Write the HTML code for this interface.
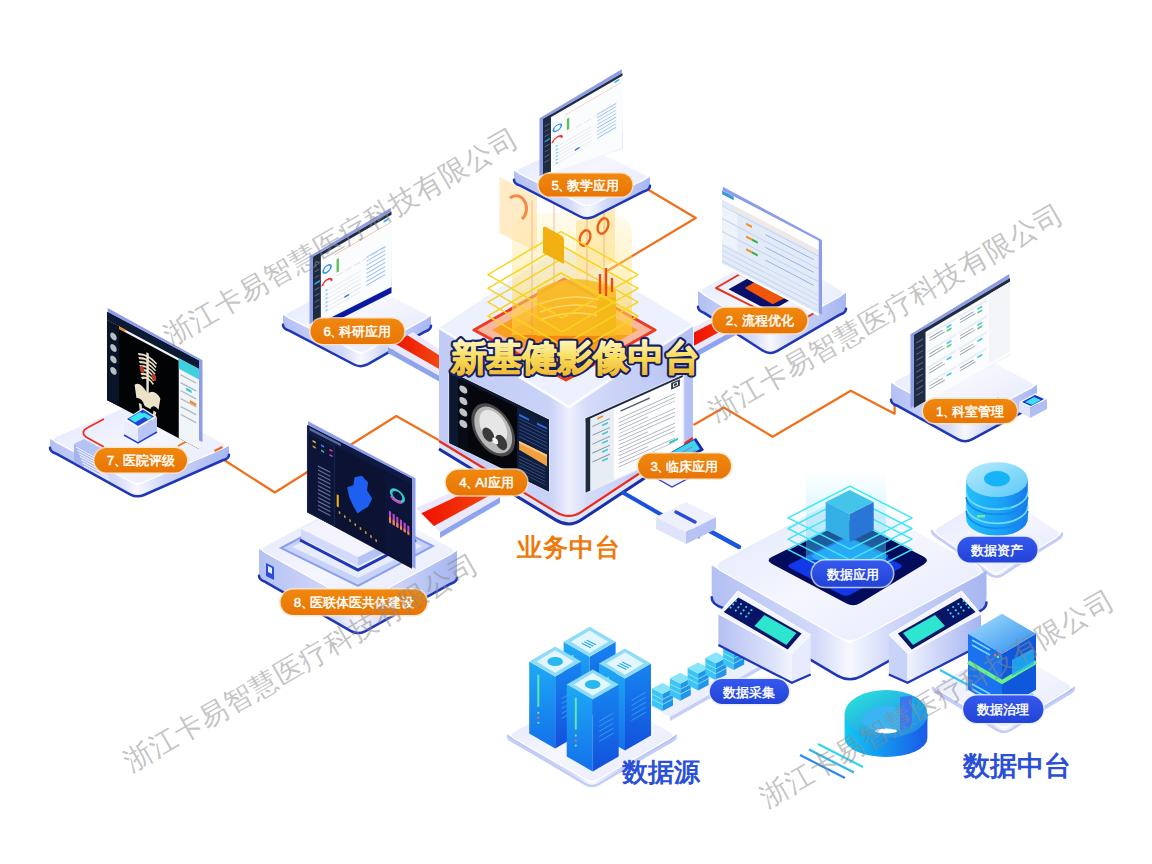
<!DOCTYPE html>
<html><head><meta charset="utf-8"><style>
html,body{margin:0;padding:0;background:#ffffff;overflow:hidden;}
svg{display:block;font-family:"Liberation Sans",sans-serif;}
</style></head><body>
<svg width="1152" height="864" viewBox="0 0 1152 864">

<defs>
 <linearGradient id="gTop" x1="0" y1="0" x2="1" y2="1">
  <stop offset="0" stop-color="#e0e5fc"/><stop offset="0.5" stop-color="#f5f6fe"/><stop offset="1" stop-color="#e4e8fc"/>
 </linearGradient>
 <linearGradient id="gSideL" x1="0" y1="0" x2="1" y2="0">
  <stop offset="0" stop-color="#b4c0f3"/><stop offset="0.75" stop-color="#dde3fb"/><stop offset="1" stop-color="#f3f4fe"/>
 </linearGradient>
 <linearGradient id="gSideR" x1="0" y1="0" x2="1" y2="0">
  <stop offset="0" stop-color="#f0f2fe"/><stop offset="0.35" stop-color="#d3daf9"/><stop offset="1" stop-color="#a4b4f1"/>
 </linearGradient>
 <linearGradient id="gCubeL" x1="0" y1="0" x2="1" y2="0">
  <stop offset="0" stop-color="#c0cbf6"/><stop offset="0.85" stop-color="#c9d2f7"/><stop offset="1" stop-color="#eef0fd"/>
 </linearGradient>
 <linearGradient id="gCubeR" x1="0" y1="0" x2="1" y2="0">
  <stop offset="0" stop-color="#eef0fd"/><stop offset="0.15" stop-color="#d4dbf9"/><stop offset="1" stop-color="#b3c0f4"/>
 </linearGradient>
 <linearGradient id="gOrange" x1="0" y1="0" x2="0" y2="1">
  <stop offset="0" stop-color="#f0880e"/><stop offset="1" stop-color="#e87504"/>
 </linearGradient>
 <linearGradient id="gBlue" x1="0" y1="0" x2="0" y2="1">
  <stop offset="0" stop-color="#3558ee"/><stop offset="1" stop-color="#2243d6"/>
 </linearGradient>
 <linearGradient id="gRed" x1="0" y1="0" x2="1" y2="0">
  <stop offset="0" stop-color="#f01000"/><stop offset="1" stop-color="#f04a10"/>
 </linearGradient>
 <linearGradient id="gTitle" x1="0" y1="0" x2="0" y2="1">
  <stop offset="0" stop-color="#fffbd0"/><stop offset="0.5" stop-color="#f8dc5a"/><stop offset="1" stop-color="#eeb22a"/>
 </linearGradient>
 <linearGradient id="gSrvL" x1="0" y1="0" x2="0" y2="1">
  <stop offset="0" stop-color="#1eaaf6"/><stop offset="1" stop-color="#1470ea"/>
 </linearGradient>
 <linearGradient id="gSrvR" x1="0" y1="0" x2="0" y2="1">
  <stop offset="0" stop-color="#1785f0"/><stop offset="1" stop-color="#1250dc"/>
 </linearGradient>
 <linearGradient id="gCyl" x1="0" y1="0" x2="1" y2="0">
  <stop offset="0" stop-color="#2fb4f8"/><stop offset="0.5" stop-color="#1a8ff2"/><stop offset="1" stop-color="#136ee8"/>
 </linearGradient>
 <linearGradient id="gHolo" x1="0" y1="0" x2="0" y2="1">
  <stop offset="0" stop-color="#ffe27a" stop-opacity="0.15"/><stop offset="1" stop-color="#ffc21a" stop-opacity="0.85"/>
 </linearGradient>
 <linearGradient id="gCyanCol" x1="0" y1="0" x2="0" y2="1">
  <stop offset="0" stop-color="#7fe8ff" stop-opacity="0"/><stop offset="1" stop-color="#3fd0ff" stop-opacity="0.5"/>
 </linearGradient>
 <linearGradient id="gDonut" x1="0" y1="0" x2="1" y2="1">
  <stop offset="0" stop-color="#2ee8d8"/><stop offset="1" stop-color="#1a7ef0"/>
 </linearGradient>
 <radialGradient id="gInset" cx="0.5" cy="0.6" r="0.6">
  <stop offset="0" stop-color="#1a4cff"/><stop offset="0.6" stop-color="#0a2ad0"/><stop offset="1" stop-color="#020a40"/>
 </radialGradient>
</defs>
<polyline points="222.5,448.7 223.7,459.7 274.8,492.5 396.3,416.0 438.9,440.2" fill="none" stroke="#f0701a" stroke-width="2.2" stroke-linejoin="round"/><polyline points="898.8,397.0 894.6,401.0 894.6,413.8 850.8,390.8 772.7,436.7 723.8,407.5 693.5,425.0" fill="none" stroke="#f0701a" stroke-width="2.2" stroke-linejoin="round"/><polyline points="644.0,182.0 647.0,189.0 695.8,218.0 605.5,272.0" fill="none" stroke="#f0701a" stroke-width="2.2" stroke-linejoin="round"/><defs><linearGradient id="pg1" gradientUnits="userSpaceOnUse" x1="283" y1="0" x2="431" y2="0"><stop offset="0" stop-color="#b3c0f3"/><stop offset="0.407" stop-color="#d3daf9"/><stop offset="0.527" stop-color="#f7f8fe"/><stop offset="0.677" stop-color="#d0d8f8"/><stop offset="1" stop-color="#a6b6f1"/></linearGradient></defs><path d="M283.0,315.0 L361.0,354.0 L431.0,316.0 L431.0,323.7 Q431.0,330.0 424.8,333.3 L367.2,364.7 Q361.0,368.0 354.7,364.9 L289.3,332.1 Q283.0,329.0 283.0,322.7 Z" fill="url(#pg1)"/><path d="M283.0,324.8 Q283.0,329.0 289.3,330.6 L354.0,364.5 Q361.0,368.0 368.0,364.2 L424.7,331.7 Q431.0,330.0 431.0,325.8" fill="none" stroke="#1f36b5" stroke-width="2.5" stroke-linecap="round"/><path d="M289.3,318.1 Q283.0,315.0 289.2,311.7 L346.8,280.3 Q353.0,277.0 359.3,280.1 L424.7,312.9 Q431.0,316.0 424.8,319.3 L367.2,350.7 Q361.0,354.0 354.7,350.9 Z" fill="url(#gTop)" stroke="#ffffff" stroke-width="1.2"/><defs><linearGradient id="pg2" gradientUnits="userSpaceOnUse" x1="698" y1="0" x2="846" y2="0"><stop offset="0" stop-color="#b3c0f3"/><stop offset="0.366" stop-color="#d3daf9"/><stop offset="0.486" stop-color="#f7f8fe"/><stop offset="0.636" stop-color="#d0d8f8"/><stop offset="1" stop-color="#a6b6f1"/></linearGradient></defs><path d="M698.0,291.0 L770.0,335.0 L846.0,293.0 L846.0,306.0 Q846.0,313.0 839.9,316.4 L776.1,351.6 Q770.0,355.0 764.0,351.3 L704.0,314.7 Q698.0,311.0 698.0,304.0 Z" fill="url(#pg2)"/><path d="M698.0,306.8 Q698.0,311.0 704.3,312.9 L763.0,350.7 Q770.0,355.0 777.0,351.1 L839.7,314.7 Q846.0,313.0 846.0,308.8" fill="none" stroke="#1f36b5" stroke-width="2.5" stroke-linecap="round"/><path d="M704.0,294.7 Q698.0,291.0 704.1,287.6 L767.9,252.4 Q774.0,249.0 780.0,252.7 L840.0,289.3 Q846.0,293.0 839.9,296.4 L776.1,331.6 Q770.0,335.0 764.0,331.3 Z" fill="url(#gTop)" stroke="#ffffff" stroke-width="1.2"/><defs><linearGradient id="pg3" gradientUnits="userSpaceOnUse" x1="891" y1="0" x2="1037" y2="0"><stop offset="0" stop-color="#b3c0f3"/><stop offset="0.387" stop-color="#d3daf9"/><stop offset="0.507" stop-color="#f7f8fe"/><stop offset="0.657" stop-color="#d0d8f8"/><stop offset="1" stop-color="#a6b6f1"/></linearGradient></defs><path d="M891.0,383.0 L965.0,422.0 L1037.0,385.0 L1037.0,399.0 Q1037.0,406.0 1030.8,409.2 L971.2,439.8 Q965.0,443.0 958.8,439.7 L897.2,407.3 Q891.0,404.0 891.0,397.0 Z" fill="url(#pg3)"/><path d="M891.0,399.8 Q891.0,404.0 897.3,405.7 L958.0,439.3 Q965.0,443.0 972.0,439.4 L1030.7,407.6 Q1037.0,406.0 1037.0,401.8" fill="none" stroke="#1f36b5" stroke-width="2.5" stroke-linecap="round"/><path d="M897.2,386.3 Q891.0,383.0 897.2,379.8 L956.8,349.2 Q963.0,346.0 969.2,349.3 L1030.8,381.7 Q1037.0,385.0 1030.8,388.2 L971.2,418.8 Q965.0,422.0 958.8,418.7 Z" fill="url(#gTop)" stroke="#ffffff" stroke-width="1.2"/><defs><linearGradient id="pg4" gradientUnits="userSpaceOnUse" x1="50" y1="0" x2="229" y2="0"><stop offset="0" stop-color="#b3c0f3"/><stop offset="0.366" stop-color="#d3daf9"/><stop offset="0.486" stop-color="#f7f8fe"/><stop offset="0.636" stop-color="#d0d8f8"/><stop offset="1" stop-color="#a6b6f1"/></linearGradient></defs><path d="M50.0,439.0 L137.0,485.0 L229.0,446.0 L229.0,453.1 Q229.0,459.0 222.6,461.7 L143.4,495.3 Q137.0,498.0 130.8,494.7 L56.2,455.3 Q50.0,452.0 50.0,446.1 Z" fill="url(#pg4)"/><path d="M50.0,447.8 Q50.0,452.0 56.3,453.7 L130.0,494.3 Q137.0,498.0 144.0,495.0 L222.7,460.3 Q229.0,459.0 229.0,454.8" fill="none" stroke="#1f36b5" stroke-width="2.5" stroke-linecap="round"/><path d="M56.2,442.3 Q50.0,439.0 56.4,436.3 L135.6,402.7 Q142.0,400.0 148.2,403.3 L222.8,442.7 Q229.0,446.0 222.6,448.7 L143.4,482.3 Q137.0,485.0 130.8,481.7 Z" fill="url(#gTop)" stroke="#ffffff" stroke-width="1.2"/><defs><linearGradient id="pg5" gradientUnits="userSpaceOnUse" x1="259" y1="0" x2="457" y2="0"><stop offset="0" stop-color="#b3c0f3"/><stop offset="0.380" stop-color="#d3daf9"/><stop offset="0.500" stop-color="#f7f8fe"/><stop offset="0.650" stop-color="#d0d8f8"/><stop offset="1" stop-color="#a6b6f1"/></linearGradient></defs><path d="M259.0,549.0 L358.0,604.0 L457.0,551.0 L457.0,575.0 Q457.0,582.0 450.8,585.3 L364.2,631.7 Q358.0,635.0 351.9,631.6 L265.1,583.4 Q259.0,580.0 259.0,573.0 Z" fill="url(#pg5)"/><path d="M259.0,575.8 Q259.0,580.0 265.3,581.8 L351.0,631.1 Q358.0,635.0 365.0,631.3 L450.7,583.7 Q457.0,582.0 457.0,577.8" fill="none" stroke="#1f36b5" stroke-width="2.5" stroke-linecap="round"/><path d="M265.1,552.4 Q259.0,549.0 265.2,545.7 L351.8,499.3 Q358.0,496.0 364.1,499.4 L450.9,547.6 Q457.0,551.0 450.8,554.3 L364.2,600.7 Q358.0,604.0 351.9,600.6 Z" fill="url(#gTop)" stroke="#ffffff" stroke-width="1.2"/><polygon points="388.0,347.0 440.0,376.0 440.0,382.0 388.0,353.0" fill="#8ea5ee" /><polygon points="413.0,332.0 440.0,350.0 440.0,376.0 388.0,347.0" fill="#ebe8fb" /><polygon points="407.5,335.3 440.0,355.7 440.0,369.5 394.2,343.2" fill="url(#gRed)" /><polygon points="745.0,324.0 694.0,352.0 694.0,358.0 745.0,330.0" fill="#8ea5ee" /><polygon points="725.0,311.0 694.0,327.0 694.0,352.0 745.0,324.0" fill="#ebe8fb" /><polygon points="729.4,313.9 694.0,332.5 694.0,345.8 740.0,320.8" fill="url(#gRed)" /><polygon points="440.0,532.0 500.0,497.0 500.0,503.0 440.0,538.0" fill="#8ea5ee" /><polygon points="416.0,508.0 475.0,482.0 500.0,497.0 440.0,532.0" fill="#ebe8fb" /><polygon points="421.3,513.3 480.5,485.3 493.8,493.2 434.0,526.0" fill="url(#gRed)" /><path d="M716,288 L740,274 L816,312 L792,326 Z" fill="none" stroke="#e8321a" stroke-width="2" stroke-linejoin="round"/><polygon points="728.6,289.2 749.4,277.6 791.0,299.6 770.3,311.2" fill="#08106a" /><polygon points="744.8,288.0 756.4,281.0 786.5,297.3 772.6,304.3" fill="#f0560a" /><line x1="985" y1="404.0" x2="1003" y2="413.0" stroke="#8a9ee8" stroke-width="1"/><line x1="988" y1="402.4" x2="1006" y2="411.4" stroke="#8a9ee8" stroke-width="1"/><line x1="991" y1="400.8" x2="1009" y2="409.8" stroke="#8a9ee8" stroke-width="1"/><line x1="994" y1="399.2" x2="1012" y2="408.2" stroke="#8a9ee8" stroke-width="1"/><line x1="997" y1="397.6" x2="1015" y2="406.6" stroke="#8a9ee8" stroke-width="1"/><polygon points="1019.0,402.0 1036.0,393.0 1047.0,399.0 1030.0,408.0" fill="#f2f4fe" /><polygon points="1019.0,402.0 1030.0,408.0 1030.0,418.0 1019.0,412.0" fill="#dfe4fb" /><polygon points="1030.0,408.0 1047.0,399.0 1047.0,409.0 1030.0,418.0" fill="#b0bef2" /><polygon points="1022.0,402.0 1035.0,395.0 1044.0,399.0 1031.0,406.0" fill="#1a2ac8" /><polygon points="1025.0,402.0 1034.0,397.0 1041.0,400.0 1032.0,405.0" fill="#3ae0f0" /><path d="M104,447 L86,437 Q80,432 87,428 L104,419" fill="none" stroke="#e8321e" stroke-width="1.8"/><line x1="178" y1="446" x2="191" y2="439" stroke="#f0701a" stroke-width="1.8"/><polygon points="74.0,444.0 84.0,439.0 110.0,453.0 100.0,458.0" fill="#b4c2f4" /><polygon points="74.0,444.0 100.0,458.0 100.0,476.0 74.0,462.0" fill="#a4b4f0" /><line x1="76.0" y1="447.0" x2="102.0" y2="461.0" stroke="#eef1fe" stroke-width="1.1"/><line x1="77.3" y1="450.2" x2="103.3" y2="464.2" stroke="#eef1fe" stroke-width="1.1"/><line x1="78.6" y1="453.4" x2="104.6" y2="467.4" stroke="#eef1fe" stroke-width="1.1"/><line x1="79.9" y1="456.6" x2="105.9" y2="470.6" stroke="#eef1fe" stroke-width="1.1"/><line x1="81.2" y1="459.8" x2="107.2" y2="473.8" stroke="#eef1fe" stroke-width="1.1"/><line x1="82.5" y1="463.0" x2="108.5" y2="477.0" stroke="#eef1fe" stroke-width="1.1"/><line x1="83.8" y1="466.2" x2="109.8" y2="480.2" stroke="#eef1fe" stroke-width="1.1"/><polygon points="214.0,450.0 222.0,446.0 223.0,448.0 215.0,452.0" fill="#f06a1a" /><polygon points="281.0,548.0 357.0,508.0 433.0,546.0 358.0,586.0" fill="#c9d2f7" stroke="#8aa0f0" stroke-width="2"/><polygon points="292.0,547.0 357.0,514.0 422.0,546.0 358.0,578.0" fill="#e8ecfd" /><polyline points="300.0,540.0 358.0,570.0 416.0,540.0" fill="none" stroke="#1f36b5" stroke-width="3"/><polygon points="301.0,529.0 358.0,557.0 358.0,566.0 301.0,538.0" fill="#d3daf9" /><polygon points="358.0,557.0 415.0,529.0 415.0,538.0 358.0,566.0" fill="#b5c3f4" /><polygon points="358.0,501.0 415.0,529.0 358.0,557.0 301.0,529.0" fill="#f3f4fe" /><polygon points="266.0,563.0 274.0,567.0 274.0,580.0 266.0,576.0" fill="#2a4ad8" /><polygon points="268.0,566.0 272.0,568.0 272.0,574.0 268.0,572.0" fill="#e6ecff" /><polygon points="309.5,256.3 390.8,207.7 391.5,287.0 309.5,324.0" fill="#8e9de8" /><polygon points="313.0,257.0 391.5,211.5 391.5,287.0 313.0,324.0" fill="#fbfcfe" /><g transform="matrix(0.7850 -0.4550 0.0000 0.6700 313.00 257.00)"><rect x="0" y="0" width="100" height="100" fill="#fbfcfe"/><rect x="0" y="0" width="100" height="5" fill="#1f2b40"/><rect x="0" y="0" width="10" height="100" fill="#1f2b40"/><rect x="2" y="14" width="6" height="1.6" fill="#5a6a88"/><rect x="2" y="23" width="6" height="1.6" fill="#5a6a88"/><rect x="2" y="32" width="6" height="1.6" fill="#5a6a88"/><rect x="2" y="41" width="6" height="1.6" fill="#5a6a88"/><rect x="2" y="50" width="6" height="1.6" fill="#5a6a88"/><rect x="2" y="59" width="6" height="1.6" fill="#5a6a88"/><rect x="2" y="68" width="6" height="1.6" fill="#5a6a88"/><rect x="2" y="77" width="6" height="1.6" fill="#5a6a88"/><rect x="2" y="40" width="7" height="3" fill="#2a9ae0"/><circle cx="18" cy="30" r="5" fill="none" stroke="#2a8ff0" stroke-width="2"/><path d="M12,52 A6,6 0 0 1 24,52" fill="none" stroke="#e83a3a" stroke-width="2.5"/><rect x="28" y="15" width="70" height="1" fill="#f3b48a"/><rect x="30" y="24" width="3" height="20" fill="#5cc05a"/><rect x="30" y="48" width="8" height="0.8" fill="#c8d0dc"/><rect x="41" y="48" width="8" height="0.8" fill="#c8d0dc"/><rect x="52" y="48" width="8" height="0.8" fill="#c8d0dc"/><rect x="63" y="48" width="8" height="0.8" fill="#c8d0dc"/><rect x="74" y="48" width="8" height="0.8" fill="#c8d0dc"/><rect x="85" y="48" width="8" height="0.8" fill="#c8d0dc"/><rect x="13" y="62" width="48" height="0.8" fill="#d6dbe4"/><rect x="16" y="60" width="2.5" height="2" fill="#5ac8f0"/><rect x="13" y="68" width="48" height="0.8" fill="#d6dbe4"/><rect x="16" y="66" width="2.5" height="2" fill="#5ac8f0"/><rect x="13" y="74" width="48" height="0.8" fill="#d6dbe4"/><rect x="16" y="72" width="2.5" height="2" fill="#5ac8f0"/><rect x="13" y="80" width="48" height="0.8" fill="#d6dbe4"/><rect x="16" y="78" width="2.5" height="2" fill="#5ac8f0"/><rect x="13" y="86" width="48" height="0.8" fill="#d6dbe4"/><rect x="16" y="84" width="2.5" height="2" fill="#5ac8f0"/><rect x="13" y="92" width="48" height="0.8" fill="#d6dbe4"/><rect x="16" y="90" width="2.5" height="2" fill="#5ac8f0"/><rect x="40" y="86" width="6" height="2.5" fill="#2a6ae8"/><rect x="68" y="46" width="24" height="1.4" fill="#8ab8ee"/><rect x="68" y="52" width="24" height="1.4" fill="#8ab8ee"/><rect x="68" y="58" width="24" height="1.4" fill="#8ab8ee"/><rect x="68" y="64" width="24" height="1.4" fill="#8ab8ee"/><rect x="68" y="70" width="24" height="1.4" fill="#8ab8ee"/><rect x="68" y="76" width="24" height="1.4" fill="#8ab8ee"/><rect x="68" y="82" width="24" height="1.4" fill="#8ab8ee"/><rect x="68" y="88" width="24" height="1.4" fill="#8ab8ee"/><rect x="90" y="7" width="6" height="3" fill="#2ab0f0"/></g><polygon points="910.5,334.3 1009.3,274.1 1010.0,355.0 910.5,408.0" fill="#8e9de8" /><polygon points="914.0,335.0 1010.0,278.0 1010.0,355.0 914.0,408.0" fill="#fbfcfe" /><g transform="matrix(0.9600 -0.5700 0.0000 0.7300 914.00 335.00)"><rect x="0" y="0" width="100" height="100" fill="#fbfcfe"/><rect x="0" y="0" width="100" height="5" fill="#1f2b40"/><rect x="0" y="0" width="12" height="100" fill="#1f2b40"/><rect x="2.5" y="12" width="7" height="1.5" fill="#5a6a88"/><rect x="2.5" y="20" width="7" height="1.5" fill="#5a6a88"/><rect x="2.5" y="28" width="7" height="1.5" fill="#5a6a88"/><rect x="2.5" y="36" width="7" height="1.5" fill="#5a6a88"/><rect x="2.5" y="44" width="7" height="1.5" fill="#5a6a88"/><rect x="2.5" y="52" width="7" height="1.5" fill="#5a6a88"/><rect x="2.5" y="60" width="7" height="1.5" fill="#5a6a88"/><rect x="2.5" y="68" width="7" height="1.5" fill="#5a6a88"/><rect x="2.5" y="76" width="7" height="1.5" fill="#5a6a88"/><rect x="2.5" y="84" width="7" height="1.5" fill="#5a6a88"/><rect x="78" y="5" width="22" height="95" fill="#f3f5f9"/><rect x="14" y="10" width="30" height="3" fill="#e8edf4"/><rect x="16" y="16" width="14" height="1.2" fill="#8a96a8"/><rect x="16" y="20" width="16" height="1.2" fill="#8a96a8"/><rect x="34" y="15" width="5" height="2.5" fill="#3ac0f0"/><rect x="34" y="20" width="5" height="2.5" fill="#5ac85a"/><rect x="14" y="32" width="30" height="3" fill="#e8edf4"/><rect x="16" y="38" width="14" height="1.2" fill="#8a96a8"/><rect x="16" y="42" width="16" height="1.2" fill="#8a96a8"/><rect x="34" y="37" width="5" height="2.5" fill="#3ac0f0"/><rect x="34" y="42" width="5" height="2.5" fill="#5ac85a"/><rect x="14" y="54" width="30" height="3" fill="#e8edf4"/><rect x="16" y="60" width="14" height="1.2" fill="#8a96a8"/><rect x="16" y="64" width="16" height="1.2" fill="#8a96a8"/><rect x="34" y="59" width="5" height="2.5" fill="#3ac0f0"/><rect x="14" y="76" width="30" height="3" fill="#e8edf4"/><rect x="16" y="82" width="14" height="1.2" fill="#8a96a8"/><rect x="16" y="86" width="16" height="1.2" fill="#8a96a8"/><rect x="34" y="81" width="5" height="2.5" fill="#3ac0f0"/><rect x="46" y="10" width="30" height="3" fill="#e8edf4"/><rect x="48" y="16" width="14" height="1.2" fill="#8a96a8"/><rect x="48" y="20" width="16" height="1.2" fill="#8a96a8"/><rect x="66" y="15" width="5" height="2.5" fill="#3ac0f0"/><rect x="66" y="20" width="5" height="2.5" fill="#5ac85a"/><rect x="46" y="32" width="30" height="3" fill="#e8edf4"/><rect x="48" y="38" width="14" height="1.2" fill="#8a96a8"/><rect x="48" y="42" width="16" height="1.2" fill="#8a96a8"/><rect x="66" y="37" width="5" height="2.5" fill="#3ac0f0"/><rect x="66" y="42" width="5" height="2.5" fill="#5ac85a"/><rect x="46" y="54" width="30" height="3" fill="#e8edf4"/><rect x="48" y="60" width="14" height="1.2" fill="#8a96a8"/><rect x="48" y="64" width="16" height="1.2" fill="#8a96a8"/><rect x="66" y="59" width="5" height="2.5" fill="#3ac0f0"/><rect x="46" y="76" width="30" height="3" fill="#e8edf4"/><rect x="48" y="82" width="14" height="1.2" fill="#8a96a8"/><rect x="48" y="86" width="16" height="1.2" fill="#8a96a8"/><rect x="66" y="81" width="5" height="2.5" fill="#3ac0f0"/></g><polygon points="722.8,186.7 822.0,240.0 822.0,314.4 722.1,265.8" fill="#8e9de8" /><polygon points="722.1,190.5 818.5,240.7 818.5,314.4 722.1,265.8" fill="#e2eaf7" /><g transform="matrix(0.9640 0.5020 0.0000 0.7530 722.10 190.50)"><rect x="0" y="0" width="100" height="100" fill="#e2eaf7"/><rect x="0" y="0" width="100" height="12" fill="#ffffff"/><rect x="0" y="0" width="12" height="5" fill="#3a9ad8"/><rect x="12" y="13" width="88" height="3" fill="#f9e6d4"/><rect x="0" y="20" width="100" height="1" fill="#b6c8ee"/><rect x="0" y="21" width="16" height="15" fill="#eef2f9"/><rect x="25" y="26" width="6" height="3" fill="#f0901a"/><rect x="45" y="28" width="50" height="1" fill="#7aa0e8"/><rect x="0" y="37" width="100" height="1" fill="#b6c8ee"/><rect x="0" y="38" width="16" height="15" fill="#eef2f9"/><rect x="25" y="43" width="6" height="3" fill="#f0901a"/><rect x="31" y="43" width="6" height="3" fill="#30b040"/><rect x="45" y="45" width="50" height="1" fill="#7aa0e8"/><rect x="0" y="54" width="100" height="1" fill="#b6c8ee"/><rect x="0" y="55" width="16" height="15" fill="#eef2f9"/><rect x="25" y="60" width="6" height="3" fill="#f0901a"/><rect x="31" y="60" width="6" height="3" fill="#30b040"/><rect x="45" y="62" width="50" height="1" fill="#7aa0e8"/><rect x="0" y="72" width="100" height="0.8" fill="#b6c8ee"/><rect x="0" y="79" width="100" height="0.8" fill="#b6c8ee"/><rect x="0" y="86" width="100" height="0.8" fill="#b6c8ee"/><rect x="0" y="93" width="100" height="0.8" fill="#b6c8ee"/><rect x="0" y="97" width="100" height="3" fill="#ffffff"/></g><polygon points="107.7,308.1 202.5,360.3 202.5,442.0 107.0,400.0" fill="#8e9de8" /><polygon points="107.0,312.0 199.0,361.0 199.0,442.0 107.0,400.0" fill="#020305" /><g transform="matrix(0.9200 0.4900 0.0000 0.8800 107.00 312.00)"><rect x="0" y="0" width="100" height="100" fill="#020305"/><rect x="0" y="0" width="100" height="9" fill="#0c1a34"/><rect x="0" y="9" width="78" height="3" fill="#f4f6fa"/><rect x="12" y="9" width="8" height="3" fill="#f08a20"/><rect x="0" y="9" width="13" height="91" fill="#081428"/><ellipse cx="7" cy="24" rx="3.5" ry="4" fill="#d8dce0" opacity="0.85"/><ellipse cx="7" cy="37" rx="3.5" ry="4" fill="#d8dce0" opacity="0.85"/><ellipse cx="7" cy="50" rx="3.5" ry="4" fill="#d8dce0" opacity="0.85"/><ellipse cx="7" cy="63" rx="3.5" ry="4" fill="#d8dce0" opacity="0.85"/><rect x="78" y="9" width="22" height="91" fill="#f2f5f8"/><rect x="78" y="9" width="22" height="12" fill="#40d0e0"/><rect x="80" y="26" width="17" height="1.6" fill="#a8b8c8"/><rect x="80" y="35" width="17" height="1.6" fill="#a8b8c8"/><rect x="80" y="44" width="17" height="1.6" fill="#a8b8c8"/><rect x="80" y="53" width="17" height="1.6" fill="#a8b8c8"/><rect x="80" y="62" width="17" height="1.6" fill="#a8b8c8"/><rect x="80" y="71" width="17" height="1.6" fill="#a8b8c8"/><rect x="90" y="50" width="7" height="3" fill="#f08a30"/><rect x="86" y="38" width="6" height="3" fill="#40c8d8"/><path d="M34.0,29.0 Q44,23.0 54.0,29.0" fill="none" stroke="#e9dfc6" stroke-width="2.2"/><path d="M34.6,33.2 Q44,27.2 53.4,33.2" fill="none" stroke="#e9dfc6" stroke-width="2.2"/><path d="M35.2,37.4 Q44,31.4 52.8,37.4" fill="none" stroke="#e9dfc6" stroke-width="2.2"/><path d="M35.8,41.6 Q44,35.6 52.2,41.6" fill="none" stroke="#e9dfc6" stroke-width="2.2"/><path d="M36.4,45.8 Q44,39.8 51.6,45.8" fill="none" stroke="#e9dfc6" stroke-width="2.2"/><path d="M37.0,50.0 Q44,44.0 51.0,50.0" fill="none" stroke="#e9dfc6" stroke-width="2.2"/><path d="M37.6,54.2 Q44,48.2 50.4,54.2" fill="none" stroke="#e9dfc6" stroke-width="2.2"/><rect x="42.8" y="22" width="2.6" height="50" fill="#efe6d0"/><ellipse cx="38" cy="44" rx="2.5" ry="4" fill="#b83a2a"/><ellipse cx="51" cy="46" rx="2.5" ry="4" fill="#b83a2a"/><path d="M30,66 Q36,58 44,68 Q52,58 58,66 L56,80 Q50,76 47,84 L41,84 Q38,76 32,80 Z" fill="#ece2ca"/><path d="M36,84 L38,98 M52,84 L50,98" stroke="#e2d6bc" stroke-width="3"/></g><polygon points="308.1,421.3 415.5,478.2 415.5,568.7 307.4,512.2" fill="#8e9de8" /><polygon points="307.4,425.2 412.0,478.9 412.0,568.7 307.4,512.2" fill="#0b1232" /><g transform="matrix(1.0460 0.5370 0.0000 0.8700 307.40 425.20)"><rect x="0" y="0" width="100" height="100" fill="#0b1232"/><rect x="0" y="0" width="100" height="7" fill="#0e1a44"/><rect x="2" y="1.5" width="30" height="3" fill="#8aa0d0" opacity="0.6"/><rect x="0" y="8" width="26" height="92" fill="#0c1538" stroke="#20306a" stroke-width="0.6"/><rect x="10" y="40.0" width="12" height="1.5" fill="#8a96c0" opacity="0.7"/><rect x="10" y="44.5" width="12" height="1.5" fill="#8a96c0" opacity="0.7"/><rect x="10" y="49.0" width="12" height="1.5" fill="#8a96c0" opacity="0.7"/><rect x="10" y="53.5" width="12" height="1.5" fill="#8a96c0" opacity="0.7"/><rect x="10" y="58.0" width="12" height="1.5" fill="#8a96c0" opacity="0.7"/><rect x="10" y="62.5" width="12" height="1.5" fill="#8a96c0" opacity="0.7"/><rect x="10" y="67.0" width="12" height="1.5" fill="#8a96c0" opacity="0.7"/><rect x="10" y="71.5" width="12" height="1.5" fill="#8a96c0" opacity="0.7"/><rect x="10" y="76.0" width="12" height="1.5" fill="#8a96c0" opacity="0.7"/><rect x="10" y="80.5" width="12" height="1.5" fill="#8a96c0" opacity="0.7"/><rect x="10" y="85.0" width="12" height="1.5" fill="#8a96c0" opacity="0.7"/><rect x="10" y="89.5" width="12" height="1.5" fill="#8a96c0" opacity="0.7"/><rect x="5" y="14" width="3" height="2" fill="#f0c030"/><rect x="13" y="14" width="3" height="2" fill="#3a8af0"/><rect x="21" y="14" width="3" height="2" fill="#e040a0"/><rect x="5" y="20" width="3" height="2" fill="#e0a030"/><rect x="13" y="20" width="3" height="2" fill="#30c0a0"/><rect x="21" y="20" width="3" height="2" fill="#c040e0"/><path d="M45,32 L52,26 L58,30 L57,40 L62,46 L58,58 L52,66 L48,72 L44,66 L40,58 L38,48 L44,42 Z" fill="#1e5ef0"/><rect x="74" y="8" width="26" height="92" fill="#0c1538"/><circle cx="86" cy="28" r="6" fill="none" stroke="#30d0d0" stroke-width="2.5"/><path d="M80,32 A6,6 0 0 0 90,33" fill="none" stroke="#e040c0" stroke-width="2.5"/><rect x="78.0" y="50.0" width="2" height="14" fill="#c04ad0"/><rect x="78.0" y="57.0" width="2" height="6.0" fill="#f08a40"/><rect x="81.5" y="51.2" width="2" height="13" fill="#c04ad0"/><rect x="81.5" y="58.2" width="2" height="5.5" fill="#f08a40"/><rect x="85.0" y="52.4" width="2" height="12" fill="#c04ad0"/><rect x="85.0" y="59.4" width="2" height="5.0" fill="#f08a40"/><rect x="88.5" y="53.6" width="2" height="11" fill="#c04ad0"/><rect x="88.5" y="60.6" width="2" height="4.5" fill="#f08a40"/><rect x="92.0" y="54.8" width="2" height="10" fill="#c04ad0"/><rect x="92.0" y="61.8" width="2" height="4.0" fill="#f08a40"/><rect x="95.5" y="56.0" width="2" height="9" fill="#c04ad0"/><rect x="95.5" y="63.0" width="2" height="3.5" fill="#f08a40"/><rect x="30" y="80.0" width="1.5" height="3" fill="#d0a030"/><rect x="35" y="81.5" width="1.5" height="3" fill="#d0a030"/><rect x="40" y="83.0" width="1.5" height="3" fill="#d0a030"/><rect x="45" y="84.5" width="1.5" height="3" fill="#d0a030"/><rect x="50" y="86.0" width="1.5" height="3" fill="#d0a030"/><rect x="55" y="87.5" width="1.5" height="3" fill="#d0a030"/><rect x="60" y="89.0" width="1.5" height="3" fill="#d0a030"/><rect x="65" y="90.5" width="1.5" height="3" fill="#d0a030"/><rect x="28" y="62" width="2" height="14" fill="#f0b020"/></g><polygon points="326.0,320.0 391.5,287.0 391.5,293.0 338.0,320.0" fill="#0a1aa0" /><polygon points="124.0,420.0 138.0,428.0 138.0,443.0 124.0,435.0" fill="#e9ecfd" /><polygon points="138.0,428.0 157.0,417.0 157.0,432.0 138.0,443.0" fill="#b9c5f4" /><polyline points="124.0,435.0 138.0,443.0 157.0,432.0" fill="none" stroke="#2a40c8" stroke-width="1.5"/><polygon points="124.0,420.0 143.0,408.0 157.0,417.0 138.0,428.0" fill="#f4f6fe" /><polygon points="127.0,419.0 143.0,409.5 154.0,416.5 138.0,426.0" fill="#2440d8" /><polygon points="129.0,418.5 140.0,412.0 146.0,416.0 135.0,422.5" fill="#3ae6f0" /><polygon points="141.0,414.5 144.0,412.5 152.0,417.0 148.0,419.5" fill="#3ae6f0" /><rect x="309.0" y="317.0" width="96.8" height="28.5" rx="14.2" fill="#fde3c6" opacity="0.8"/><rect x="310.5" y="318.5" width="93.8" height="25.5" rx="12.8" fill="url(#gOrange)"/><text x="357.4" y="336.2" font-size="13.4" fill="#ffffff" stroke="#ffffff" stroke-width="0.45" text-anchor="middle" font-weight="normal">6<tspan dx="-0.5">、</tspan><tspan dx="-4">科研应用</tspan></text><rect x="710.9" y="306.2" width="97.9" height="28.5" rx="14.2" fill="#fde3c6" opacity="0.8"/><rect x="712.4" y="307.7" width="94.9" height="25.5" rx="12.8" fill="url(#gOrange)"/><text x="759.8" y="325.4" font-size="13.4" fill="#ffffff" stroke="#ffffff" stroke-width="0.45" text-anchor="middle" font-weight="normal">2<tspan dx="-0.5">、</tspan><tspan dx="-4">流程优化</tspan></text><rect x="921.5" y="397.5" width="97.0" height="27.0" rx="13.5" fill="#fde3c6" opacity="0.8"/><rect x="923.0" y="399.0" width="94.0" height="24.0" rx="12.0" fill="url(#gOrange)"/><text x="970.0" y="416.0" font-size="13.4" fill="#ffffff" stroke="#ffffff" stroke-width="0.45" text-anchor="middle" font-weight="normal">1<tspan dx="-0.5">、</tspan><tspan dx="-4">科室管理</tspan></text><rect x="92.9" y="446.5" width="95.6" height="27.5" rx="13.8" fill="#fde3c6" opacity="0.8"/><rect x="94.4" y="448.0" width="92.6" height="24.5" rx="12.2" fill="url(#gOrange)"/><text x="140.7" y="465.2" font-size="13.4" fill="#ffffff" stroke="#ffffff" stroke-width="0.45" text-anchor="middle" font-weight="normal">7<tspan dx="-0.5">、</tspan><tspan dx="-4">医院评级</tspan></text><rect x="279.1" y="588.0" width="149.4" height="28.5" rx="14.2" fill="#fde3c6" opacity="0.8"/><rect x="280.6" y="589.5" width="146.4" height="25.5" rx="12.8" fill="url(#gOrange)"/><text x="353.8" y="607.2" font-size="13.4" fill="#ffffff" stroke="#ffffff" stroke-width="0.45" text-anchor="middle" font-weight="normal">8<tspan dx="-0.5">、</tspan><tspan dx="-4">医联体医共体建设</tspan></text><clipPath id="cubeClip"><path d="M437,128 L695,125 L695,447.5 L581.4,521.3 Q569,529.5 556.0,521.6 L437,450.5 Z"/></clipPath><g clip-path="url(#cubeClip)"><polygon points="439.0,328.0 569.0,407.0 569.0,528.0 439.0,449.0" fill="url(#gCubeL)" /><polygon points="569.0,407.0 693.0,325.0 693.0,446.0 569.0,528.0" fill="url(#gCubeR)" /><path d="M439,441 L569,520 L693,438 L693,448 L569,530 L439,451 Z" fill="#dfe6fb"/></g><path d="M439.0,441.0 L556.0,512.1 Q569.0,520.0 581.4,511.8 L693.0,438.0" fill="none" stroke="#ec2a1a" stroke-width="2.2"/><path d="M439.0,449.0 L556.0,520.1 Q569.0,528.0 581.4,519.8 L693.0,446.0" fill="none" stroke="#1a2fa8" stroke-width="3"/><polygon points="439.0,328.0 563.0,246.0 693.0,325.0 569.0,407.0" fill="#edf0fd" /><polyline points="439.0,328.0 569.0,407.0 693.0,325.0" fill="none" stroke="#ffffff" stroke-width="2.5" opacity="0.9"/><polygon points="474.0,330.0 564.0,279.0 655.0,330.0 566.0,380.0" fill="#f7b8a0" stroke="#ee3a22" stroke-width="3" stroke-linejoin="round"/><polygon points="492.0,330.0 564.0,290.0 638.0,330.0 566.0,372.0" fill="#f7a020" /><polygon points="512.0,330.0 564.0,302.0 618.0,330.0 566.0,360.0" fill="#f68a10" /><defs><linearGradient id="gCol" x1="0" y1="0" x2="0" y2="1"><stop offset="0" stop-color="#fff0b0" stop-opacity="0.25"/><stop offset="0.6" stop-color="#ffe070" stop-opacity="0.5"/><stop offset="1" stop-color="#ffc830" stop-opacity="0.7"/></linearGradient></defs><path d="M512,235 Q512,213 540,213 L604,213 Q632,213 632,235 L632,335 L512,335 Z" fill="url(#gCol)"/><polygon points="499.5,177.0 537.0,196.0 537.0,252.0 499.5,233.0" fill="#ffe0a0" opacity="0.6"/><polygon points="576.0,221.0 615.0,207.0 615.0,262.0 576.0,276.0" fill="#ffe6a0" opacity="0.75"/><path d="M510,198 A9,11 0 1 1 522,219" fill="none" stroke="#f07a30" stroke-width="3" opacity="0.85"/><ellipse cx="585" cy="238" rx="5" ry="8" transform="rotate(20 585 238)" fill="none" stroke="#f05a10" stroke-width="2.3"/><ellipse cx="603" cy="226" rx="5" ry="8" transform="rotate(20 603 226)" fill="none" stroke="#f05a10" stroke-width="2.3"/><line x1="532" y1="200" x2="532" y2="335" stroke="#f08050" stroke-width="0.8" opacity="0.6"/><line x1="554" y1="200" x2="554" y2="335" stroke="#f08050" stroke-width="0.8" opacity="0.6"/><line x1="587" y1="200" x2="587" y2="335" stroke="#f08050" stroke-width="0.8" opacity="0.6"/><line x1="604" y1="200" x2="604" y2="335" stroke="#f08050" stroke-width="0.8" opacity="0.6"/><path d="M537,290 Q576,268 616,290 L616,336 L537,336 Z" fill="#f8b820" opacity="0.85"/><path d="M540,304 Q576,290 612,304" fill="none" stroke="#ffe080" stroke-width="1.6" opacity="0.8"/><path d="M540,312 Q576,298 612,312" fill="none" stroke="#ffe080" stroke-width="1.6" opacity="0.8"/><path d="M540,320 Q576,306 612,320" fill="none" stroke="#ffe080" stroke-width="1.6" opacity="0.8"/><polygon points="597.0,300.0 616.0,297.0 616.0,330.0 597.0,333.0" fill="#f4b818" /><polygon points="488.0,274.6 561.0,231.6 638.0,274.6 562.0,318.0" fill="none" stroke="#f8d420" stroke-width="1.5" stroke-linejoin="round"/><polygon points="488.0,288.4 561.0,245.4 638.0,288.4 562.0,331.8" fill="none" stroke="#f8d420" stroke-width="1.5" stroke-linejoin="round"/><polygon points="488.0,302.2 561.0,259.2 638.0,302.2 562.0,345.6" fill="none" stroke="#f8d420" stroke-width="1.5" stroke-linejoin="round"/><polygon points="488.0,316.0 561.0,273.0 638.0,316.0 562.0,359.4" fill="none" stroke="#f8d420" stroke-width="1.5" stroke-linejoin="round"/><path d="M543,228 Q543,226 546,227 L562,236 Q564,237 564,240 L564,264 L543,253 Z" fill="#f2b010"/><path d="M600,294 v-20 M606,296 v-28 M612,292 v-14" stroke="#f04a10" stroke-width="2.4"/><defs><linearGradient id="pg6" gradientUnits="userSpaceOnUse" x1="514" y1="0" x2="650" y2="0"><stop offset="0" stop-color="#b3c0f3"/><stop offset="0.417" stop-color="#d3daf9"/><stop offset="0.537" stop-color="#f7f8fe"/><stop offset="0.687" stop-color="#d0d8f8"/><stop offset="1" stop-color="#a6b6f1"/></linearGradient></defs><path d="M514.0,171.0 L587.0,207.0 L650.0,177.0 L650.0,184.2 Q650.0,190.0 643.7,193.0 L593.3,217.0 Q587.0,220.0 580.7,216.9 L520.3,187.1 Q514.0,184.0 514.0,178.2 Z" fill="url(#pg6)"/><path d="M514.0,179.8 Q514.0,184.0 520.3,185.6 L580.0,216.5 Q587.0,220.0 594.0,216.7 L643.7,191.5 Q650.0,190.0 650.0,185.8" fill="none" stroke="#1f36b5" stroke-width="2.5" stroke-linecap="round"/><path d="M520.3,174.1 Q514.0,171.0 520.3,168.0 L570.7,144.0 Q577.0,141.0 583.3,144.1 L643.7,173.9 Q650.0,177.0 643.7,180.0 L593.3,204.0 Q587.0,207.0 580.7,203.9 Z" fill="url(#gTop)" stroke="#ffffff" stroke-width="1.2"/><polygon points="539.5,118.3 621.8,69.2 622.5,148.5 539.5,176.0" fill="#8e9de8" /><polygon points="543.0,119.0 622.5,73.0 622.5,148.5 543.0,176.0" fill="#fbfcfe" /><g transform="matrix(0.7950 -0.4600 0.0000 0.5700 543.00 119.00)"><rect x="0" y="0" width="100" height="100" fill="#fbfcfe"/><rect x="0" y="0" width="100" height="5" fill="#1f2b40"/><rect x="0" y="0" width="10" height="100" fill="#1f2b40"/><rect x="2" y="14" width="6" height="1.6" fill="#5a6a88"/><rect x="2" y="23" width="6" height="1.6" fill="#5a6a88"/><rect x="2" y="32" width="6" height="1.6" fill="#5a6a88"/><rect x="2" y="41" width="6" height="1.6" fill="#5a6a88"/><rect x="2" y="50" width="6" height="1.6" fill="#5a6a88"/><rect x="2" y="59" width="6" height="1.6" fill="#5a6a88"/><rect x="2" y="68" width="6" height="1.6" fill="#5a6a88"/><rect x="2" y="77" width="6" height="1.6" fill="#5a6a88"/><rect x="2" y="40" width="7" height="3" fill="#2a9ae0"/><circle cx="18" cy="30" r="5" fill="none" stroke="#2a8ff0" stroke-width="2"/><path d="M12,52 A6,6 0 0 1 24,52" fill="none" stroke="#e83a3a" stroke-width="2.5"/><rect x="28" y="15" width="70" height="1" fill="#f3b48a"/><rect x="30" y="24" width="3" height="20" fill="#5cc05a"/><rect x="30" y="48" width="8" height="0.8" fill="#c8d0dc"/><rect x="41" y="48" width="8" height="0.8" fill="#c8d0dc"/><rect x="52" y="48" width="8" height="0.8" fill="#c8d0dc"/><rect x="63" y="48" width="8" height="0.8" fill="#c8d0dc"/><rect x="74" y="48" width="8" height="0.8" fill="#c8d0dc"/><rect x="85" y="48" width="8" height="0.8" fill="#c8d0dc"/><rect x="13" y="62" width="48" height="0.8" fill="#d6dbe4"/><rect x="16" y="60" width="2.5" height="2" fill="#5ac8f0"/><rect x="13" y="68" width="48" height="0.8" fill="#d6dbe4"/><rect x="16" y="66" width="2.5" height="2" fill="#5ac8f0"/><rect x="13" y="74" width="48" height="0.8" fill="#d6dbe4"/><rect x="16" y="72" width="2.5" height="2" fill="#5ac8f0"/><rect x="13" y="80" width="48" height="0.8" fill="#d6dbe4"/><rect x="16" y="78" width="2.5" height="2" fill="#5ac8f0"/><rect x="13" y="86" width="48" height="0.8" fill="#d6dbe4"/><rect x="16" y="84" width="2.5" height="2" fill="#5ac8f0"/><rect x="13" y="92" width="48" height="0.8" fill="#d6dbe4"/><rect x="16" y="90" width="2.5" height="2" fill="#5ac8f0"/><rect x="40" y="86" width="6" height="2.5" fill="#2a6ae8"/><rect x="68" y="46" width="24" height="1.4" fill="#8ab8ee"/><rect x="68" y="52" width="24" height="1.4" fill="#8ab8ee"/><rect x="68" y="58" width="24" height="1.4" fill="#8ab8ee"/><rect x="68" y="64" width="24" height="1.4" fill="#8ab8ee"/><rect x="68" y="70" width="24" height="1.4" fill="#8ab8ee"/><rect x="68" y="76" width="24" height="1.4" fill="#8ab8ee"/><rect x="68" y="82" width="24" height="1.4" fill="#8ab8ee"/><rect x="68" y="88" width="24" height="1.4" fill="#8ab8ee"/><rect x="90" y="7" width="6" height="3" fill="#2ab0f0"/></g><rect x="537.1" y="171.9" width="96.8" height="26.2" rx="13.1" fill="#fde3c6" opacity="0.8"/><rect x="538.6" y="173.4" width="93.8" height="23.2" rx="11.6" fill="url(#gOrange)"/><text x="585.5" y="190.0" font-size="13.4" fill="#ffffff" stroke="#ffffff" stroke-width="0.45" text-anchor="middle" font-weight="normal">5<tspan dx="-0.5">、</tspan><tspan dx="-4">教学应用</tspan></text><g transform="matrix(0.9960 0.4860 0.0000 0.7180 449.40 371.20)"><rect x="-1" y="-1" width="102" height="102" fill="#dfe5fb"/><rect x="0" y="0" width="100" height="100" fill="#05070c"/><rect x="0" y="0" width="100" height="4" fill="#101a30"/><rect x="0" y="0" width="9" height="100" fill="#0c1830"/><rect x="9" y="4" width="10" height="96" fill="#080c16"/><ellipse cx="14" cy="16" rx="4" ry="5" fill="#c0c4c8"/><ellipse cx="14" cy="32" rx="4" ry="5" fill="#c0c4c8"/><ellipse cx="14" cy="48" rx="4" ry="5" fill="#c0c4c8"/><ellipse cx="14" cy="64" rx="4" ry="5" fill="#c0c4c8"/><ellipse cx="44" cy="52" rx="22" ry="34" fill="#4a4a4a"/><ellipse cx="44" cy="52" rx="19" ry="30" fill="#b8b8b8"/><ellipse cx="44" cy="48" rx="14" ry="22" fill="#e6e6e6"/><ellipse cx="39" cy="62" rx="6" ry="9" fill="#3a3a3a"/><ellipse cx="52" cy="64" rx="6" ry="10" fill="#3a3a3a"/><ellipse cx="46" cy="66" rx="3" ry="4" fill="#f4f4f4"/><rect x="68" y="4" width="32" height="96" fill="#0f1d3e"/><rect x="70" y="18" width="28" height="1.2" fill="#3a5090"/><rect x="70" y="23" width="28" height="1.2" fill="#3a5090"/><rect x="70" y="28" width="28" height="1.2" fill="#3a5090"/><rect x="70" y="33" width="28" height="1.2" fill="#3a5090"/><rect x="70" y="38" width="28" height="1.2" fill="#3a5090"/><rect x="70" y="43" width="28" height="1.2" fill="#3a5090"/><rect x="70" y="12" width="10" height="3" fill="#2a70e0"/><rect x="88" y="12" width="10" height="3" fill="#2a70e0"/><path d="M70,50 L98,50 L98,66 L70,62 Z" fill="#f0a040"/><rect x="70" y="50" width="28" height="3" fill="#f8c880"/><rect x="70" y="70.0" width="26" height="1" fill="#44588a"/><rect x="70" y="74.5" width="26" height="1" fill="#44588a"/><rect x="70" y="79.0" width="26" height="1" fill="#44588a"/><rect x="70" y="83.5" width="26" height="1" fill="#44588a"/><rect x="70" y="88.0" width="26" height="1" fill="#44588a"/><rect x="70" y="92.5" width="26" height="1" fill="#44588a"/></g><g transform="matrix(0.9720 -0.4370 0.0000 0.7410 585.60 418.60)"><rect x="-1.5" y="-1.5" width="103" height="103" fill="#e6eafb"/><rect x="0" y="0" width="100" height="100" fill="#fdfdfe"/><rect x="0" y="0" width="100" height="3" fill="#1e2a40"/><rect x="0" y="0" width="5" height="100" fill="#1e2a40"/><rect x="5" y="3" width="24" height="97" fill="#e8edf3"/><rect x="7" y="14" width="18" height="1.4" fill="#8a96a8"/><rect x="17" y="18" width="6" height="2.4" fill="#40c8d8"/><rect x="7" y="26" width="18" height="1.4" fill="#8a96a8"/><rect x="17" y="30" width="6" height="2.4" fill="#40c8d8"/><rect x="7" y="38" width="18" height="1.4" fill="#8a96a8"/><rect x="17" y="42" width="6" height="2.4" fill="#40c8d8"/><rect x="7" y="50" width="18" height="1.4" fill="#8a96a8"/><rect x="17" y="54" width="6" height="2.4" fill="#40c8d8"/><rect x="7" y="62" width="18" height="1.4" fill="#8a96a8"/><rect x="17" y="66" width="6" height="2.4" fill="#40c8d8"/><rect x="12" y="6" width="6" height="2.5" fill="#f0902a"/><rect x="36" y="10" width="30" height="2" fill="#505a6a"/><rect x="88" y="4" width="9" height="9" fill="#303848"/><rect x="90" y="6" width="5" height="5" fill="#f0f0f0"/><rect x="91" y="7" width="3" height="3" fill="#303848"/><rect x="34" y="20" width="58" height="1" fill="#9aa2b0"/><rect x="34" y="25" width="58" height="1" fill="#9aa2b0"/><rect x="34" y="30" width="58" height="1" fill="#9aa2b0"/><rect x="34" y="35" width="30" height="1" fill="#9aa2b0"/><rect x="34" y="40" width="58" height="1" fill="#9aa2b0"/><rect x="34" y="45" width="58" height="1" fill="#9aa2b0"/><rect x="34" y="50" width="58" height="1" fill="#9aa2b0"/><rect x="34" y="55" width="30" height="1" fill="#9aa2b0"/><rect x="34" y="60" width="58" height="1" fill="#9aa2b0"/><rect x="34" y="65" width="58" height="1" fill="#9aa2b0"/><rect x="34" y="70" width="58" height="1" fill="#9aa2b0"/><rect x="34" y="75" width="30" height="1" fill="#9aa2b0"/><rect x="34" y="80" width="58" height="1" fill="#9aa2b0"/><rect x="34" y="85" width="58" height="1" fill="#9aa2b0"/><rect x="86" y="82" width="9" height="3" fill="#30c8c8"/></g><polygon points="656.0,478.0 690.0,460.0 706.0,469.0 672.0,487.0" fill="#eef0fd" stroke="#2a3ac0" stroke-width="1.2"/><polygon points="664.0,456.0 696.0,438.0 704.0,450.0 672.0,468.0" fill="#1a2aa8" /><polygon points="667.0,455.0 694.0,440.0 700.0,449.0 673.0,464.0" fill="#3ad8e8" /><line x1="676" y1="456" x2="692" y2="447" stroke="#b070e0" stroke-width="1.2"/><line x1="680" y1="459" x2="696" y2="450" stroke="#b070e0" stroke-width="1.2"/><rect x="444.3" y="468.2" width="84.4" height="28.5" rx="14.2" fill="#fde3c6" opacity="0.8"/><rect x="445.8" y="469.7" width="81.4" height="25.5" rx="12.8" fill="url(#gOrange)"/><text x="486.5" y="487.4" font-size="13.4" fill="#ffffff" stroke="#ffffff" stroke-width="0.45" text-anchor="middle" font-weight="normal">4<tspan dx="-0.5">、</tspan><tspan dx="-4">AI应用</tspan></text><rect x="636.5" y="452.1" width="96.0" height="28.0" rx="14.0" fill="#fde3c6" opacity="0.8"/><rect x="638.0" y="453.6" width="93.0" height="25.0" rx="12.5" fill="url(#gOrange)"/><text x="684.5" y="471.1" font-size="13.4" fill="#ffffff" stroke="#ffffff" stroke-width="0.45" text-anchor="middle" font-weight="normal">3<tspan dx="-0.5">、</tspan><tspan dx="-4">临床应用</tspan></text><text x="575" y="370" font-size="36" text-anchor="middle" font-weight="bold" fill="#18206a" stroke="#161e66" stroke-width="5.5" stroke-linejoin="round" letter-spacing="-0.5">新基健影像中台</text><text x="575" y="370" font-size="36" text-anchor="middle" font-weight="bold" fill="url(#gTitle)" stroke="url(#gTitle)" stroke-width="1.3" stroke-linejoin="round" letter-spacing="-0.5">新基健影像中台</text><text x="568.5" y="555.5" font-size="25" text-anchor="middle" font-weight="bold" fill="#ee7a0c" letter-spacing="1">业务中台</text><line x1="622" y1="492" x2="700" y2="537" stroke="#1a50e0" stroke-width="4"/><line x1="708" y1="530" x2="739" y2="547" stroke="#1a56e0" stroke-width="4.5" stroke-linecap="round"/><polygon points="656.0,517.0 686.0,532.0 686.0,544.0 656.0,529.0" fill="#dfe4fb" /><polygon points="686.0,532.0 716.0,517.0 716.0,529.0 686.0,544.0" fill="#b6c3f4" /><polygon points="686.0,502.0 716.0,517.0 686.0,532.0 656.0,517.0" fill="#eef0fd" /><line x1="676" y1="512" x2="695" y2="522" stroke="#2a4ad8" stroke-width="3.5" stroke-linecap="round"/><defs><linearGradient id="pg7" gradientUnits="userSpaceOnUse" x1="508" y1="0" x2="676" y2="0"><stop offset="0" stop-color="#b3c0f3"/><stop offset="0.380" stop-color="#d3daf9"/><stop offset="0.500" stop-color="#f7f8fe"/><stop offset="0.650" stop-color="#d0d8f8"/><stop offset="1" stop-color="#a6b6f1"/></linearGradient></defs><path d="M508.0,735.0 L592.0,783.0 L676.0,735.0 L676.0,737.8 Q676.0,740.0 669.9,743.5 L598.1,784.5 Q592.0,788.0 585.9,784.5 L514.1,743.5 Q508.0,740.0 508.0,737.8 Z" fill="url(#pg7)"/><path d="M508.0,735.8 Q508.0,740.0 514.3,741.8 L585.0,784.0 Q592.0,788.0 599.0,784.0 L669.7,741.8 Q676.0,740.0 676.0,735.8" fill="none" stroke="#c3cdf6" stroke-width="2.5" stroke-linecap="round"/><path d="M514.1,738.5 Q508.0,735.0 514.1,731.5 L585.9,690.5 Q592.0,687.0 598.1,690.5 L669.9,731.5 Q676.0,735.0 669.9,738.5 L598.1,779.5 Q592.0,783.0 585.9,779.5 Z" fill="url(#gTop)" stroke="#ffffff" stroke-width="1.2"/><polygon points="646.0,704.0 752.0,644.0 776.0,657.0 670.0,717.0" fill="#eceffd" /><polygon points="670.0,717.0 776.0,657.0 776.0,661.0 670.0,721.0" fill="#c5cff6" /><polygon points="652.0,688.5 662.5,694.0 662.5,711.0 652.0,705.5" fill="#3cc4f2" /><polygon points="662.5,694.0 673.0,688.5 673.0,705.5 662.5,711.0" fill="#2296e6" /><polygon points="662.5,683.0 673.0,688.5 662.5,694.0 652.0,688.5" fill="#86e4fb" /><polyline points="652.0,694.0 662.5,699.5 673.0,694.0" fill="none" stroke="#a8eefc" stroke-width="0.9" opacity="0.8"/><polyline points="652.0,699.0 662.5,704.5 673.0,699.0" fill="none" stroke="#a8eefc" stroke-width="0.9" opacity="0.8"/><polygon points="669.8,678.2 680.3,683.8 680.3,700.8 669.8,695.2" fill="#3cc4f2" /><polygon points="680.3,683.8 690.8,678.2 690.8,695.2 680.3,700.8" fill="#2296e6" /><polygon points="680.3,672.8 690.8,678.2 680.3,683.8 669.8,678.2" fill="#86e4fb" /><polyline points="669.8,683.8 680.3,689.2 690.8,683.8" fill="none" stroke="#a8eefc" stroke-width="0.9" opacity="0.8"/><polyline points="669.8,688.8 680.3,694.2 690.8,688.8" fill="none" stroke="#a8eefc" stroke-width="0.9" opacity="0.8"/><polygon points="687.6,668.0 698.1,673.5 698.1,690.5 687.6,685.0" fill="#3cc4f2" /><polygon points="698.1,673.5 708.6,668.0 708.6,685.0 698.1,690.5" fill="#2296e6" /><polygon points="698.1,662.5 708.6,668.0 698.1,673.5 687.6,668.0" fill="#86e4fb" /><polyline points="687.6,673.5 698.1,679.0 708.6,673.5" fill="none" stroke="#a8eefc" stroke-width="0.9" opacity="0.8"/><polyline points="687.6,678.5 698.1,684.0 708.6,678.5" fill="none" stroke="#a8eefc" stroke-width="0.9" opacity="0.8"/><polygon points="705.4,657.8 715.9,663.2 715.9,680.2 705.4,674.8" fill="#3cc4f2" /><polygon points="715.9,663.2 726.4,657.8 726.4,674.8 715.9,680.2" fill="#2296e6" /><polygon points="715.9,652.2 726.4,657.8 715.9,663.2 705.4,657.8" fill="#86e4fb" /><polyline points="705.4,663.2 715.9,668.8 726.4,663.2" fill="none" stroke="#a8eefc" stroke-width="0.9" opacity="0.8"/><polyline points="705.4,668.2 715.9,673.8 726.4,668.2" fill="none" stroke="#a8eefc" stroke-width="0.9" opacity="0.8"/><polygon points="723.2,647.5 733.7,653.0 733.7,670.0 723.2,664.5" fill="#3cc4f2" /><polygon points="733.7,653.0 744.2,647.5 744.2,664.5 733.7,670.0" fill="#2296e6" /><polygon points="733.7,642.0 744.2,647.5 733.7,653.0 723.2,647.5" fill="#86e4fb" /><polyline points="723.2,653.0 733.7,658.5 744.2,653.0" fill="none" stroke="#a8eefc" stroke-width="0.9" opacity="0.8"/><polyline points="723.2,658.0 733.7,663.5 744.2,658.0" fill="none" stroke="#a8eefc" stroke-width="0.9" opacity="0.8"/><polygon points="735.0,640.0 752.0,632.0 775.0,645.0 758.0,653.0" fill="#7ee0f8" opacity="0.45"/><defs><linearGradient id="pg8" gradientUnits="userSpaceOnUse" x1="933" y1="0" x2="1074" y2="0"><stop offset="0" stop-color="#b3c0f3"/><stop offset="0.384" stop-color="#d3daf9"/><stop offset="0.504" stop-color="#f7f8fe"/><stop offset="0.654" stop-color="#d0d8f8"/><stop offset="1" stop-color="#a6b6f1"/></linearGradient></defs><path d="M933.0,687.0 L1004.0,729.0 L1074.0,687.0 L1074.0,689.8 Q1074.0,692.0 1068.0,695.6 L1010.0,730.4 Q1004.0,734.0 998.0,730.4 L939.0,695.6 Q933.0,692.0 933.0,689.8 Z" fill="url(#pg8)"/><path d="M933.0,687.8 Q933.0,692.0 939.3,693.9 L997.0,729.9 Q1004.0,734.0 1011.0,729.8 L1067.7,693.9 Q1074.0,692.0 1074.0,687.8" fill="none" stroke="#c3cdf6" stroke-width="2.5" stroke-linecap="round"/><path d="M939.0,690.6 Q933.0,687.0 939.0,683.4 L997.0,648.6 Q1003.0,645.0 1009.0,648.6 L1068.0,683.4 Q1074.0,687.0 1068.0,690.6 L1010.0,725.4 Q1004.0,729.0 998.0,725.4 Z" fill="url(#gTop)" stroke="#ffffff" stroke-width="1.2"/><defs><linearGradient id="pg9" gradientUnits="userSpaceOnUse" x1="932" y1="0" x2="1062" y2="0"><stop offset="0" stop-color="#b3c0f3"/><stop offset="0.372" stop-color="#d3daf9"/><stop offset="0.492" stop-color="#f7f8fe"/><stop offset="0.642" stop-color="#d0d8f8"/><stop offset="1" stop-color="#a6b6f1"/></linearGradient></defs><path d="M932.0,531.0 L996.0,575.0 L1062.0,534.0 L1062.0,536.2 Q1062.0,538.0 1056.1,541.7 L1001.9,575.3 Q996.0,579.0 990.2,575.0 L937.8,539.0 Q932.0,535.0 932.0,533.2 Z" fill="url(#pg9)"/><path d="M932.0,530.8 Q932.0,535.0 938.3,537.2 L989.0,574.2 Q996.0,579.0 1003.0,574.7 L1055.7,540.0 Q1062.0,538.0 1062.0,533.8" fill="none" stroke="#c3cdf6" stroke-width="2.5" stroke-linecap="round"/><path d="M937.8,535.0 Q932.0,531.0 937.9,527.3 L992.1,493.7 Q998.0,490.0 1003.8,494.0 L1056.2,530.0 Q1062.0,534.0 1056.1,537.7 L1001.9,571.3 Q996.0,575.0 990.2,571.0 Z" fill="url(#gTop)" stroke="#ffffff" stroke-width="1.2"/><defs><linearGradient id="pg10" gradientUnits="userSpaceOnUse" x1="711.7" y1="0" x2="986.5" y2="0"><stop offset="0" stop-color="#b3c0f3"/><stop offset="0.382" stop-color="#d3daf9"/><stop offset="0.502" stop-color="#f7f8fe"/><stop offset="0.652" stop-color="#d0d8f8"/><stop offset="1" stop-color="#a6b6f1"/></linearGradient></defs><path d="M711.7,565.5 L849.7,643.6 L986.5,570.7 L986.5,597.7 Q986.5,609.7 975.9,615.3 L860.3,677.0 Q849.7,682.6 839.3,676.7 L722.1,610.4 Q711.7,604.5 711.7,592.5 Z" fill="url(#pg10)"/><path d="M711.7,597.3 Q711.7,604.5 722.5,607.6 L837.7,675.8 Q849.7,682.6 861.7,676.2 L975.7,612.6 Q986.5,609.7 986.5,602.5" fill="none" stroke="#1f36b5" stroke-width="2.5" stroke-linecap="round"/><path d="M722.1,571.4 Q711.7,565.5 722.3,559.9 L837.9,498.2 Q848.5,492.6 858.9,498.5 L976.1,564.8 Q986.5,570.7 975.9,576.3 L860.3,638.0 Q849.7,643.6 839.3,637.7 Z" fill="url(#gTop)" stroke="#ffffff" stroke-width="1.2"/><polygon points="888.8,634.9 907.5,653.6 907.5,682.8 888.8,674.4" fill="#c9d2f8" /><polygon points="907.5,653.6 981.0,614.0 981.0,645.0 907.5,682.8" fill="url(#gSideR)" /><polyline points="888.8,674.4 907.5,682.8 981.0,645.0" fill="none" stroke="#1f36b5" stroke-width="2.2"/><polygon points="888.8,634.9 961.7,591.0 981.0,614.0 907.5,653.6" fill="#f2f4fe" stroke="#ffffff" stroke-width="1"/><polygon points="897.8,633.5 961.0,597.4 975.6,612.0 911.7,649.4" fill="#0a1466" /><polygon points="903.0,633.0 935.0,615.0 945.0,626.0 913.0,645.0" fill="#2ee6d0" /><circle cx="948.0" cy="610.0" r="1.1" fill="#35d8e8"/><circle cx="950.6" cy="613.3" r="1.1" fill="#35d8e8"/><circle cx="953.2" cy="616.6" r="1.1" fill="#35d8e8"/><circle cx="953.2" cy="607.0" r="1.1" fill="#35d8e8"/><circle cx="955.8" cy="610.3" r="1.1" fill="#35d8e8"/><circle cx="958.4" cy="613.6" r="1.1" fill="#35d8e8"/><circle cx="958.4" cy="604.0" r="1.1" fill="#35d8e8"/><circle cx="961.0" cy="607.3" r="1.1" fill="#35d8e8"/><circle cx="963.6" cy="610.6" r="1.1" fill="#35d8e8"/><circle cx="963.6" cy="601.0" r="1.1" fill="#35d8e8"/><circle cx="966.2" cy="604.3" r="1.1" fill="#35d8e8"/><circle cx="968.8" cy="607.6" r="1.1" fill="#35d8e8"/><polygon points="810.7,634.9 791.9,653.6 791.9,682.8 810.7,674.4" fill="#e8ebfd" /><polygon points="791.9,653.6 718.4,614.0 718.4,645.0 791.9,682.8" fill="url(#gSideL)" /><polyline points="810.7,674.4 791.9,682.8 718.4,645.0" fill="none" stroke="#1f36b5" stroke-width="2.2"/><polygon points="810.7,634.9 737.7,591.0 718.4,614.0 791.9,653.6" fill="#f2f4fe" stroke="#ffffff" stroke-width="1"/><polygon points="801.6,633.5 738.4,597.4 723.8,612.0 787.7,649.4" fill="#0a1466" /><polygon points="796.4,633.0 764.4,615.0 754.4,626.0 786.4,645.0" fill="#2ee6d0" /><circle cx="751.4" cy="610.0" r="1.1" fill="#35d8e8"/><circle cx="748.8" cy="613.3" r="1.1" fill="#35d8e8"/><circle cx="746.2" cy="616.6" r="1.1" fill="#35d8e8"/><circle cx="746.2" cy="607.0" r="1.1" fill="#35d8e8"/><circle cx="743.6" cy="610.3" r="1.1" fill="#35d8e8"/><circle cx="741.0" cy="613.6" r="1.1" fill="#35d8e8"/><circle cx="741.0" cy="604.0" r="1.1" fill="#35d8e8"/><circle cx="738.4" cy="607.3" r="1.1" fill="#35d8e8"/><circle cx="735.8" cy="610.6" r="1.1" fill="#35d8e8"/><circle cx="735.8" cy="601.0" r="1.1" fill="#35d8e8"/><circle cx="733.2" cy="604.3" r="1.1" fill="#35d8e8"/><circle cx="730.6" cy="607.6" r="1.1" fill="#35d8e8"/><path d="M772.1,564.0 Q765.0,560.3 772.2,556.8 L842.5,522.1 Q849.7,518.6 856.8,522.3 L923.4,556.6 Q930.5,560.3 923.7,564.5 L860.4,603.0 Q853.6,607.2 846.5,603.5 Z" fill="#030b5c"/><path d="M790.4,568.3 Q786.0,566.0 790.5,563.8 L840.5,539.2 Q845.0,537.0 849.5,539.2 L899.5,563.8 Q904.0,566.0 899.6,568.4 L850.4,594.6 Q846.0,597.0 841.6,594.7 Z" fill="#1238e8"/><path d="M813.5,557.9 Q810.0,556.0 813.6,554.2 L845.4,538.8 Q849.0,537.0 852.6,538.7 L886.4,554.3 Q890.0,556.0 886.5,557.9 L853.5,576.1 Q850.0,578.0 846.5,576.1 Z" fill="#12a8f0" opacity="0.7"/><rect x="806" y="470" width="80" height="90" fill="url(#gCyanCol)"/><polygon points="788.0,549.7 850.0,518.0 912.0,549.7 850.0,581.0" fill="none" stroke="#3de8f4" stroke-width="1.5" stroke-linejoin="round"/><polygon points="788.0,539.1 850.0,507.4 912.0,539.1 850.0,570.4" fill="none" stroke="#3de8f4" stroke-width="1.5" stroke-linejoin="round"/><polygon points="788.0,528.5 850.0,496.8 912.0,528.5 850.0,559.8" fill="none" stroke="#3de8f4" stroke-width="1.5" stroke-linejoin="round"/><polygon points="788.0,517.9 850.0,486.2 912.0,517.9 850.0,549.2" fill="none" stroke="#3de8f4" stroke-width="1.5" stroke-linejoin="round"/><polygon points="825.7,502.0 849.7,514.0 849.7,542.0 825.7,530.0" fill="#34b0e6" /><polygon points="849.7,514.0 873.7,502.0 873.7,530.0 849.7,542.0" fill="#2a76d6" /><polygon points="849.7,490.0 873.7,502.0 849.7,514.0 825.7,502.0" fill="#44c4e8" /><rect x="810.5" y="558.9" width="84.0" height="29.4" rx="14.7" fill="#e6ebff" opacity="0.8"/><rect x="812.0" y="560.4" width="81.0" height="26.4" rx="13.2" fill="url(#gBlue)"/><text x="852.5" y="578.6" font-size="13.4" fill="#ffffff" stroke="#ffffff" stroke-width="0.45" text-anchor="middle" font-weight="normal">数据应用</text><defs><linearGradient id="gCyl2" x1="0" y1="0" x2="1" y2="0"><stop offset="0" stop-color="#22c0fa"/><stop offset="0.6" stop-color="#1aa0f6"/><stop offset="1" stop-color="#1478ec"/></linearGradient><linearGradient id="gCylTop" x1="0" y1="0" x2="1" y2="1"><stop offset="0" stop-color="#b8ecfd"/><stop offset="1" stop-color="#5cc8f8"/></linearGradient></defs><path d="M966.2,479.6 L966.2,518.5 A30.8,17.4 0 0 0 1027.8,518.5 L1027.8,479.6 Z" fill="url(#gCyl2)"/><path d="M966.2,492 A30.8,17.4 0 0 0 1027.8,492" fill="none" stroke="#7ad8fb" stroke-width="1.6"/><path d="M966.2,497 A30.8,17.4 0 0 0 1027.8,497" fill="none" stroke="#1488ec" stroke-width="1.6"/><path d="M966.2,506 A30.8,17.4 0 0 0 1027.8,506" fill="none" stroke="#7ad8fb" stroke-width="1.6"/><path d="M966.2,511 A30.8,17.4 0 0 0 1027.8,511" fill="none" stroke="#1488ec" stroke-width="1.6"/><ellipse cx="997" cy="479.6" rx="30.8" ry="17.4" fill="url(#gCylTop)"/><ellipse cx="997" cy="478.7" rx="13" ry="7.7" fill="#14b4f6"/><rect x="977" y="515" width="8" height="2.5" fill="#6af090"/><rect x="1003" y="507" width="8" height="2.5" fill="#30d0f0"/><rect x="955.8" y="535.2" width="83.2" height="28.9" rx="14.4" fill="#e6ebff" opacity="0.8"/><rect x="957.3" y="536.7" width="80.2" height="25.9" rx="12.9" fill="url(#gBlue)"/><text x="997.4" y="554.6" font-size="13.4" fill="#ffffff" stroke="#ffffff" stroke-width="0.45" text-anchor="middle" font-weight="normal">数据资产</text><defs><linearGradient id="gGovTop" x1="0" y1="0" x2="1" y2="1"><stop offset="0" stop-color="#a8e0fb"/><stop offset="1" stop-color="#2a8cf0"/></linearGradient></defs><line x1="940" y1="670" x2="968" y2="685" stroke="#30c8f0" stroke-width="2"/><polygon points="968.0,633.8 1002.0,653.8 1002.0,709.8 968.0,689.8" fill="#1a72ee" /><polygon points="1002.0,653.8 1036.0,633.8 1036.0,689.8 1002.0,709.8" fill="#0f58dc" /><polygon points="1002.0,613.8 1036.0,633.8 1002.0,653.8 968.0,633.8" fill="url(#gGovTop)" /><polyline points="968.0,662.0 1002.0,682.0 1036.0,662.0" fill="none" stroke="#6af08a" stroke-width="4"/><line x1="972" y1="640" x2="990" y2="650" stroke="#7ad8fb" stroke-width="1.6"/><line x1="972" y1="645" x2="990" y2="655" stroke="#7ad8fb" stroke-width="1.6"/><circle cx="995" cy="655" r="1.2" fill="#f06a40"/><circle cx="998" cy="657" r="1.2" fill="#6af090"/><line x1="972" y1="684" x2="990" y2="694" stroke="#7ad8fb" stroke-width="1.6"/><line x1="972" y1="689" x2="990" y2="699" stroke="#7ad8fb" stroke-width="1.6"/><circle cx="995" cy="699" r="1.2" fill="#f06a40"/><circle cx="998" cy="701" r="1.2" fill="#6af090"/><path d="M1012,660 L1030,650 Q1034,648 1034,652 L1034,664 L1012,676 Z" fill="#22b0f4" opacity="0.8"/><path d="M1012,704 L1030,694 Q1034,692 1034,696 L1034,706 L1012,718 Z" fill="#22b0f4" opacity="0.8"/><rect x="961.7" y="694.1" width="83.2" height="30.4" rx="15.2" fill="#e6ebff" opacity="0.8"/><rect x="963.2" y="695.6" width="80.2" height="27.4" rx="13.7" fill="url(#gBlue)"/><text x="1003.3" y="714.3" font-size="13.4" fill="#ffffff" stroke="#ffffff" stroke-width="0.45" text-anchor="middle" font-weight="normal">数据治理</text><rect x="708.3" y="677.5" width="82.2" height="28.0" rx="14.0" fill="#e6ebff" opacity="0.8"/><rect x="709.8" y="679.0" width="79.2" height="25.0" rx="12.5" fill="url(#gBlue)"/><text x="749.4" y="696.5" font-size="13.4" fill="#ffffff" stroke="#ffffff" stroke-width="0.45" text-anchor="middle" font-weight="normal">数据采集</text><polygon points="563.6,641.7 589.6,656.7 589.6,716.7 563.6,701.7" fill="url(#gSrvL)" /><polygon points="589.6,656.7 615.6,641.7 615.6,701.7 589.6,716.7" fill="url(#gSrvR)" /><polygon points="589.6,626.7 615.6,641.7 589.6,656.7 563.6,641.7" fill="#8fdcf8" /><polygon points="589.6,630.5 608.3,641.7 589.6,653.0 570.9,641.7" fill="#e4f6fd" /><line x1="581.8" y1="643.2" x2="590.9" y2="647.7" stroke="#28a8e8" stroke-width="1.2"/><line x1="584.3" y1="641.7" x2="593.4" y2="646.2" stroke="#28a8e8" stroke-width="1.2"/><line x1="586.8" y1="640.2" x2="595.9" y2="644.7" stroke="#28a8e8" stroke-width="1.2"/><line x1="572.7" y1="655.0" x2="572.7" y2="687.0" stroke="#6af0a0" stroke-width="2" opacity="0.9"/><circle cx="572.7" cy="693.0" r="1.1" fill="#6af0a0"/><circle cx="572.7" cy="698.0" r="1.1" fill="#f07050"/><circle cx="572.7" cy="703.0" r="1.1" fill="#6af0a0"/><line x1="596.1" y1="678.7" x2="610.4" y2="670.5" stroke="#3ab8f4" stroke-width="1" opacity="0.7"/><line x1="596.1" y1="683.7" x2="610.4" y2="675.5" stroke="#3ab8f4" stroke-width="1" opacity="0.7"/><line x1="596.1" y1="688.7" x2="610.4" y2="680.5" stroke="#3ab8f4" stroke-width="1" opacity="0.7"/><line x1="596.1" y1="693.7" x2="610.4" y2="685.5" stroke="#3ab8f4" stroke-width="1" opacity="0.7"/><line x1="596.1" y1="698.7" x2="610.4" y2="690.5" stroke="#3ab8f4" stroke-width="1" opacity="0.7"/><polygon points="529.2,661.5 555.2,676.5 555.2,748.5 529.2,733.5" fill="url(#gSrvL)" /><polygon points="555.2,676.5 581.2,661.5 581.2,733.5 555.2,748.5" fill="url(#gSrvR)" /><polygon points="555.2,646.5 581.2,661.5 555.2,676.5 529.2,661.5" fill="#8fdcf8" /><polygon points="555.2,650.2 573.9,661.5 555.2,672.8 536.5,661.5" fill="#e4f6fd" /><ellipse cx="555.2" cy="661.5" rx="7.8" ry="4.5" fill="#28b8f0"/><line x1="538.3" y1="674.8" x2="538.3" y2="706.8" stroke="#6af0a0" stroke-width="2" opacity="0.9"/><circle cx="538.3" cy="712.8" r="1.1" fill="#6af0a0"/><circle cx="538.3" cy="717.8" r="1.1" fill="#f07050"/><circle cx="538.3" cy="722.8" r="1.1" fill="#6af0a0"/><line x1="561.7" y1="698.5" x2="576.0" y2="690.2" stroke="#3ab8f4" stroke-width="1" opacity="0.7"/><line x1="561.7" y1="703.5" x2="576.0" y2="695.2" stroke="#3ab8f4" stroke-width="1" opacity="0.7"/><line x1="561.7" y1="708.5" x2="576.0" y2="700.2" stroke="#3ab8f4" stroke-width="1" opacity="0.7"/><line x1="561.7" y1="713.5" x2="576.0" y2="705.2" stroke="#3ab8f4" stroke-width="1" opacity="0.7"/><line x1="561.7" y1="718.5" x2="576.0" y2="710.2" stroke="#3ab8f4" stroke-width="1" opacity="0.7"/><polygon points="599.0,663.5 625.0,678.5 625.0,750.5 599.0,735.5" fill="url(#gSrvL)" /><polygon points="625.0,678.5 651.0,663.5 651.0,735.5 625.0,750.5" fill="url(#gSrvR)" /><polygon points="625.0,648.5 651.0,663.5 625.0,678.5 599.0,663.5" fill="#8fdcf8" /><polygon points="625.0,652.2 643.7,663.5 625.0,674.8 606.3,663.5" fill="#e4f6fd" /><line x1="617.2" y1="665.0" x2="626.3" y2="669.5" stroke="#28a8e8" stroke-width="1.2"/><line x1="619.7" y1="663.5" x2="628.8" y2="668.0" stroke="#28a8e8" stroke-width="1.2"/><line x1="622.2" y1="662.0" x2="631.3" y2="666.5" stroke="#28a8e8" stroke-width="1.2"/><line x1="608.1" y1="676.8" x2="608.1" y2="708.8" stroke="#6af0a0" stroke-width="2" opacity="0.9"/><circle cx="608.1" cy="714.8" r="1.1" fill="#6af0a0"/><circle cx="608.1" cy="719.8" r="1.1" fill="#f07050"/><circle cx="608.1" cy="724.8" r="1.1" fill="#6af0a0"/><line x1="631.5" y1="700.5" x2="645.8" y2="692.2" stroke="#3ab8f4" stroke-width="1" opacity="0.7"/><line x1="631.5" y1="705.5" x2="645.8" y2="697.2" stroke="#3ab8f4" stroke-width="1" opacity="0.7"/><line x1="631.5" y1="710.5" x2="645.8" y2="702.2" stroke="#3ab8f4" stroke-width="1" opacity="0.7"/><line x1="631.5" y1="715.5" x2="645.8" y2="707.2" stroke="#3ab8f4" stroke-width="1" opacity="0.7"/><line x1="631.5" y1="720.5" x2="645.8" y2="712.2" stroke="#3ab8f4" stroke-width="1" opacity="0.7"/><polygon points="566.7,684.4 592.7,699.4 592.7,771.4 566.7,756.4" fill="url(#gSrvL)" /><polygon points="592.7,699.4 618.7,684.4 618.7,756.4 592.7,771.4" fill="url(#gSrvR)" /><polygon points="592.7,669.4 618.7,684.4 592.7,699.4 566.7,684.4" fill="#8fdcf8" /><polygon points="592.7,673.1 611.4,684.4 592.7,695.6 574.0,684.4" fill="#e4f6fd" /><ellipse cx="592.7" cy="684.4" rx="7.8" ry="4.5" fill="#28b8f0"/><line x1="575.8" y1="697.6" x2="575.8" y2="729.6" stroke="#6af0a0" stroke-width="2" opacity="0.9"/><circle cx="575.8" cy="735.6" r="1.1" fill="#6af0a0"/><circle cx="575.8" cy="740.6" r="1.1" fill="#f07050"/><circle cx="575.8" cy="745.6" r="1.1" fill="#6af0a0"/><line x1="599.2" y1="721.4" x2="613.5" y2="713.1" stroke="#3ab8f4" stroke-width="1" opacity="0.7"/><line x1="599.2" y1="726.4" x2="613.5" y2="718.1" stroke="#3ab8f4" stroke-width="1" opacity="0.7"/><line x1="599.2" y1="731.4" x2="613.5" y2="723.1" stroke="#3ab8f4" stroke-width="1" opacity="0.7"/><line x1="599.2" y1="736.4" x2="613.5" y2="728.1" stroke="#3ab8f4" stroke-width="1" opacity="0.7"/><line x1="599.2" y1="741.4" x2="613.5" y2="733.1" stroke="#3ab8f4" stroke-width="1" opacity="0.7"/><defs><linearGradient id="gDside" x1="0" y1="0" x2="1" y2="0"><stop offset="0" stop-color="#10c8f4"/><stop offset="1" stop-color="#1a5ae8"/></linearGradient></defs><path d="M844.6,714 L844.6,738 A41.4,19 0 0 0 927.4,738 L927.4,714 Z" fill="url(#gDside)"/><ellipse cx="886" cy="714" rx="41.4" ry="24" fill="url(#gDonut)"/><ellipse cx="886" cy="719" rx="24" ry="13" fill="#3ab4f2"/><ellipse cx="886" cy="731" rx="11" ry="2.6" fill="#ffffff"/><polygon points="900.0,697.0 912.0,695.6 912.0,726.0 900.0,730.0" fill="#3a78f0" /><path d="M912,695.6 Q925,700 927.4,714 L927.4,722 Q922,705 912,703 Z" fill="#0aa8f0"/><line x1="800" y1="755.0" x2="845" y2="778.0" stroke="#2a8af0" stroke-width="2.2"/><line x1="809" y1="749.5" x2="854" y2="772.5" stroke="#2ab8f0" stroke-width="2.2"/><line x1="818" y1="744.0" x2="863" y2="767.0" stroke="#30d8e8" stroke-width="2.2"/><text x="661" y="781" font-size="26" text-anchor="middle" font-weight="bold" fill="#2a4fd8">数据源</text><text x="1017" y="775" font-size="26.5" text-anchor="middle" font-weight="bold" fill="#2a4fd8">数据中台</text><text x="171.0" y="346.0" transform="rotate(-30 171.0 346.0)" font-size="28" fill="#8a8a8a" fill-opacity="0.5" letter-spacing="0.9">浙江卡易智慧医疗科技有限公司</text><text x="716.1" y="421.8" transform="rotate(-30 716.1 421.8)" font-size="28" fill="#8a8a8a" fill-opacity="0.5" letter-spacing="0.9">浙江卡易智慧医疗科技有限公司</text><text x="130.6" y="772.0" transform="rotate(-30 130.6 772.0)" font-size="28" fill="#8a8a8a" fill-opacity="0.5" letter-spacing="0.9">浙江卡易智慧医疗科技有限公司</text><text x="767.1" y="808.2" transform="rotate(-30 767.1 808.2)" font-size="28" fill="#8a8a8a" fill-opacity="0.5" letter-spacing="0.9">浙江卡易智慧医疗科技有限公司</text>
</svg></body></html>
